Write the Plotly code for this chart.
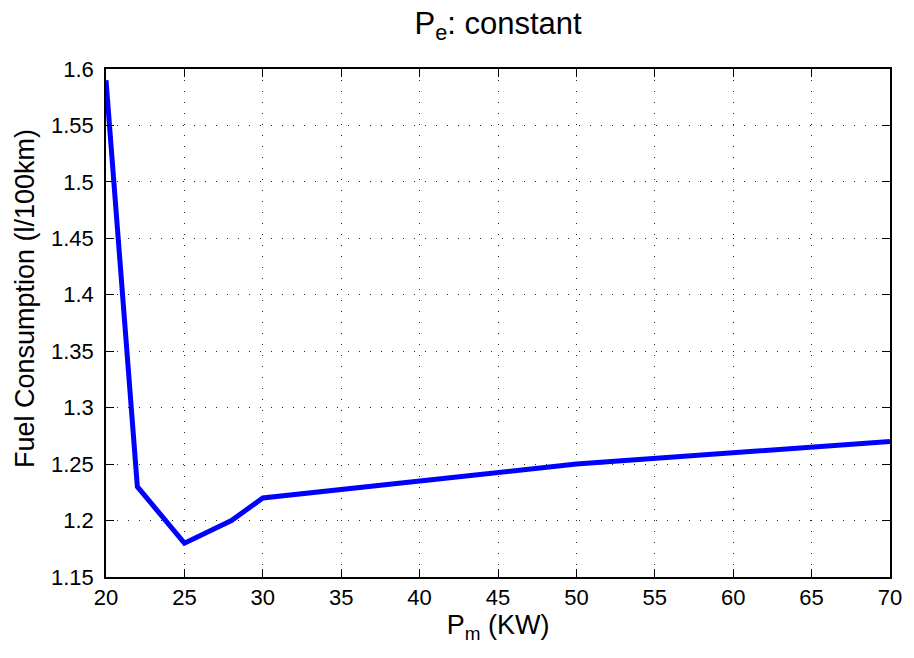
import plotly.graph_objects as go

pm_kw = [20, 22, 25, 28, 30, 50, 70]
fuel = [1.59, 1.23, 1.18, 1.20, 1.22, 1.25, 1.27]
x_ticks = [20, 25, 30, 35, 40, 45, 50, 55, 60, 65, 70]
y_ticks = [1.15, 1.2, 1.25, 1.3, 1.35, 1.4, 1.45, 1.5, 1.55, 1.6]

FONT = "Liberation Sans"

fig = go.Figure()
fig.add_trace(go.Scatter(x=pm_kw, y=fuel, mode="lines",
                         line=dict(color="#0000ff", width=5), showlegend=False))

axis_common = dict(
    showline=True, linecolor="black", linewidth=1.5, mirror="allticks",
    ticks="inside", ticklen=8, tickcolor="black", tickwidth=1,
    showgrid=True, gridcolor="rgba(0,0,0,0.85)", griddash="1px,10px", gridwidth=1,
    zeroline=False, tickfont=dict(family=FONT, size=22, color="black"),
)

fig.update_xaxes(range=[20, 70], tickvals=x_ticks, ticktext=[str(v) for v in x_ticks],
                 title=dict(text="P<sub>m</sub> (KW)", font=dict(family=FONT, size=27, color="black"),
                            standoff=2),
                 **axis_common)
fig.update_yaxes(range=[1.15, 1.6], tickvals=y_ticks,
                 ticktext=[f"{v:g}" for v in y_ticks],
                 ticklabelstandoff=6,
                 **axis_common)

fig.add_annotation(text="Fuel Consumption (l/100km)", textangle=-90,
                   xref="paper", yref="paper", x=-0.104, y=0.548,
                   xanchor="center", yanchor="middle", showarrow=False,
                   font=dict(family=FONT, size=27, color="black"))

fig.update_layout(
    width=914, height=658,
    margin=dict(l=106, r=16, t=69, b=81),
    paper_bgcolor="white", plot_bgcolor="white",
    font=dict(family=FONT, size=22, color="black"),
    title=dict(text="P<sub>e</sub>: constant", x=0.545, xanchor="center",
               y=1 - 23 / 658, yanchor="middle",
               font=dict(family=FONT, size=31, color="black")),
)

fig.write_html("out.html", config={"displayModeBar": False},
               post_script="document.body.style.margin='0';document.body.style.padding='0';")
